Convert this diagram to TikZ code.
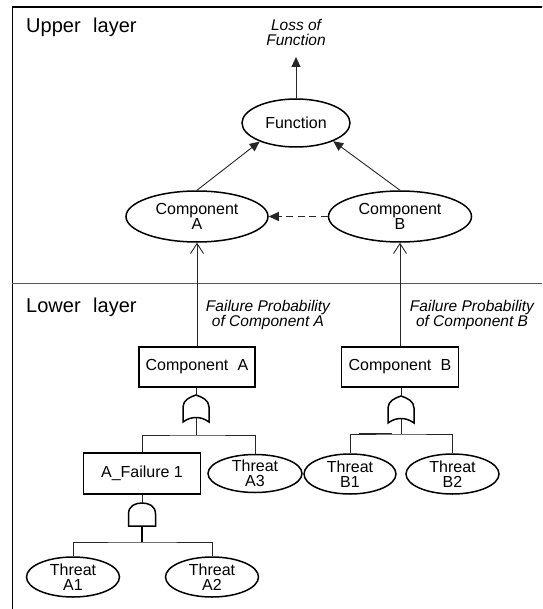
\documentclass[tikz,border=0pt]{standalone}
\usepackage{fontspec}
\setmainfont{Liberation Sans}
\usetikzlibrary{arrows.meta,shapes.geometric}

\tikzset{
  ell/.style={ellipse, draw, line width=1.5pt, inner sep=0pt, align=center,
    font=\fontsize{16}{15}\selectfont},
  fbox/.style={rectangle, draw, line width=1.9pt, inner sep=0pt,
    font=\fontsize{16}{16}\selectfont},
  lbl/.style={align=center, inner sep=0pt, font=\fontsize{15.5}{15}\selectfont\itshape},
  layer/.style={anchor=base west, inner sep=0pt, font=\fontsize{20}{20}\selectfont},
  conn/.style={line width=0.9pt, draw=black!85},
  gate/.style={line width=1.5pt, draw=black},
  solidtip/.style={-{Triangle[width=9pt,length=10pt]}},
  opentip/.style={-{Straight Barb[length=10pt,width=13pt,line width=0.9pt]}},
  pics/orgate/.style={code={
    \draw[gate] (-13,27) -- (-13,12) .. controls (-13,5) and (-6,2) .. (0,0)
      .. controls (6,2) and (13,5) .. (13,12) -- (13,27)
      .. controls (5,21) and (-5,21) .. cycle;
    \coordinate (-top) at (0,0);
    \coordinate (-bot) at (0,22.5);
  }},
  pics/andgate/.style={code={
    \draw[gate] (-13.5,23) -- (-13.5,11) .. controls (-13.5,3) and (-7,0) .. (0,0)
      .. controls (7,0) and (13.5,3) .. (13.5,11) -- (13.5,23) -- cycle;
    \coordinate (-top) at (0,0);
    \coordinate (-bot) at (0,23);
  }},
}

\begin{document}
\begin{tikzpicture}[x=1pt,y=-1pt]
  \useasboundingbox (0,0) rectangle (542,609);
  \clip (0,0) rectangle (542,609);

  % outer frame and layer divider
  \draw[line width=1.8pt] (12.4,7.3) rectangle (570,640);
  \draw[line width=0.9pt, draw=black!65] (12,283) -- (542,283);

  \node[layer] (upper) at (26,33) {Upper\hspace{0.35em} layer};
  \node[layer] (lower) at (26,312) {Lower\hspace{0.35em} layer};

  % upper layer
  \node[lbl] (loss) at (296,32.5) {Loss of\\Function};
  \coordinate (losstip) at (296,57);
  \node[ell, minimum width=108pt, minimum height=48pt] (fn) at (296,123) {Function};
  \node[ell, minimum width=142pt, minimum height=51pt] (cA) at (197,216.5) {Component\\A};
  \node[ell, minimum width=143pt, minimum height=51pt] (cB) at (400,216.5) {Component\\B};

  \draw[conn, solidtip] (fn.north) -- (losstip);
  \draw[conn, solidtip] (cA.north) -- (fn.-153);
  \draw[conn, solidtip] (cB.north) -- (fn.-26);
  \draw[conn, solidtip, line width=1.1pt, dash pattern=on 7pt off 4.5pt] (cB.west) -- (cA.east);

  % lower layer
  \node[fbox, minimum width=116pt, minimum height=40pt] (compA) at (197,367) {Component\hspace{0.3em} A};
  \node[fbox, minimum width=117pt, minimum height=40pt] (compB) at (400,367) {Component\hspace{0.3em} B};
  \node[lbl] (lpA) at (268,314.5) {Failure Probability\\of Component A};
  \node[lbl] (lpB) at (472,314.5) {Failure Probability\\of Component B};

  \draw[conn, opentip] (compA.north) -- (cA.south);
  \draw[conn, opentip] (compB.north) -- (cB.south);

  \node[fbox, minimum width=117pt, minimum height=41pt] (aFail) at (142,473.5) {A\_Failure 1};
  \node[ell, minimum width=94pt, minimum height=38pt] (tA3) at (255,473.5) {Threat\\A3};
  \node[ell, minimum width=92pt, minimum height=40pt] (tB1) at (350,474) {Threat\\B1};
  \node[ell, minimum width=93pt, minimum height=40pt] (tB2) at (452.5,474) {Threat\\B2};
  \node[ell, minimum width=93pt, minimum height=40pt] (tA1) at (73,577) {Threat\\A1};
  \node[ell, minimum width=93pt, minimum height=40pt] (tA2) at (212,577) {Threat\\A2};

  % gates
  \pic (gA) at (196,395) {orgate};
  \pic (gB) at (401,396) {orgate};
  \pic (gF) at (142,503) {andgate};

  \coordinate (barA) at (196,435);
  \coordinate (barB) at (401,434);
  \coordinate (barF) at (142,542);

  \draw[conn] (compA.south -| gA-top) -- (gA-top);
  \draw[conn] (gA-bot) -- (barA);
  \draw[conn] (aFail.north) |- (barA) -| (tA3.north);

  \draw[conn] (compB.south -| gB-top) -- (gB-top);
  \draw[conn] (gB-bot) -- (barB);
  \draw[conn] (tB1.north) |- (barB) -| (tB2.north);
  \draw[line width=1.6pt, draw=black!85] (359,433.3) -- (392,433.3);

  \draw[conn] (aFail.south) -- (gF-top);
  \draw[line width=1.8pt] (gF-bot) -- (barF);
  \draw[conn] (tA1.north) |- (barF) -| (tA2.north);
\end{tikzpicture}
\end{document}
